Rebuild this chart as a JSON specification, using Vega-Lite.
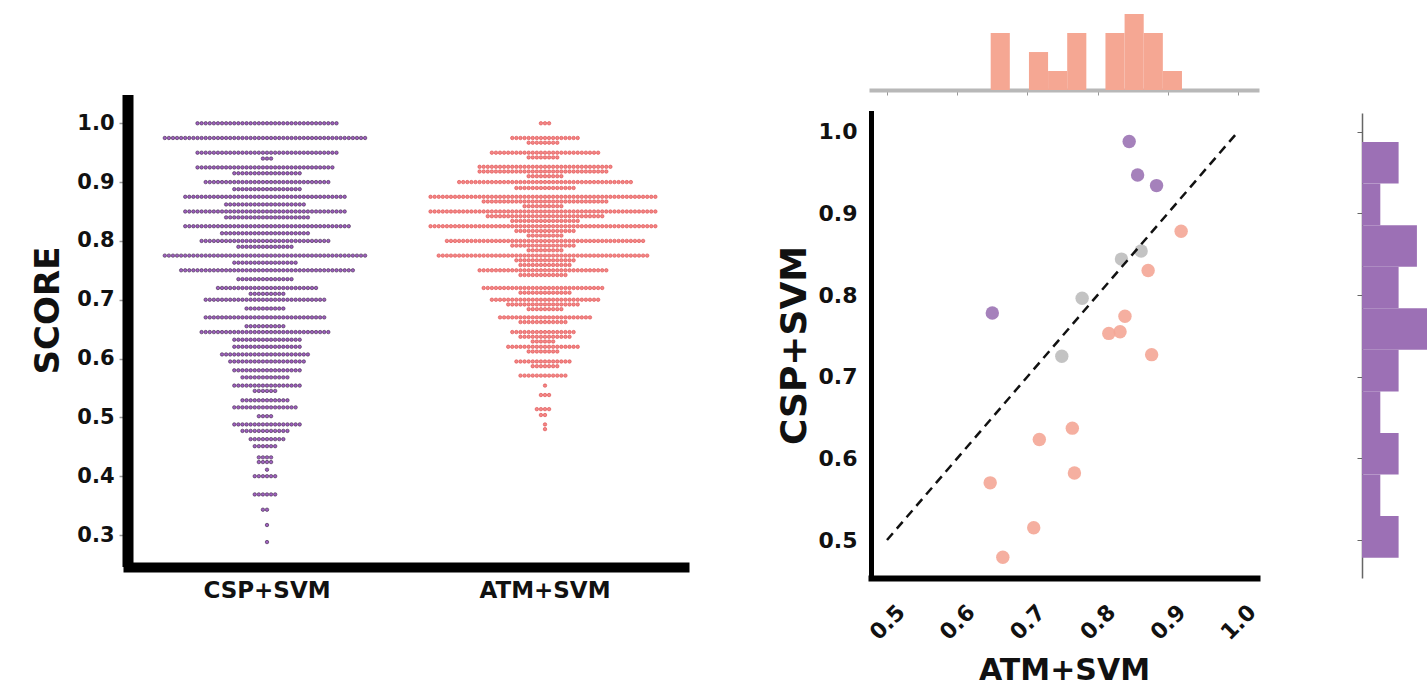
{
"$schema": "https://vega.github.io/schema/vega-lite/v6.json",
"background": "white",
"padding": {"left": 31, "top": 8, "right": 0, "bottom": 0},
"bounds": "flush",
"spacing": 187,
"config": {"font": "DejaVu Sans", "view": {"stroke": null}, "axis": {"grid": false, "labelFont": "DejaVu Sans", "titleFont": "DejaVu Sans", "labelFontWeight": "bold", "titleFontWeight": "bold", "labelColor": "#111111", "titleColor": "#111111"}},
"datasets": {
"pairs": [
{"atm":0.845,"csp":0.988,"better":"CSP+SVM"},{"atm":0.857,"csp":0.947,"better":"CSP+SVM"},{"atm":0.884,"csp":0.934,"better":"CSP+SVM"},{"atm":0.650,"csp":0.778,"better":"CSP+SVM"},
{"atm":0.834,"csp":0.844,"better":"neither"},{"atm":0.862,"csp":0.854,"better":"neither"},{"atm":0.778,"csp":0.796,"better":"neither"},{"atm":0.749,"csp":0.725,"better":"neither"},
{"atm":0.919,"csp":0.878,"better":"ATM+SVM"},{"atm":0.872,"csp":0.830,"better":"ATM+SVM"},{"atm":0.839,"csp":0.774,"better":"ATM+SVM"},{"atm":0.832,"csp":0.755,"better":"ATM+SVM"},
{"atm":0.816,"csp":0.753,"better":"ATM+SVM"},{"atm":0.877,"csp":0.727,"better":"ATM+SVM"},{"atm":0.764,"csp":0.637,"better":"ATM+SVM"},{"atm":0.717,"csp":0.623,"better":"ATM+SVM"},
{"atm":0.767,"csp":0.582,"better":"ATM+SVM"},{"atm":0.647,"csp":0.570,"better":"ATM+SVM"},{"atm":0.709,"csp":0.515,"better":"ATM+SVM"},{"atm":0.665,"csp":0.479,"better":"ATM+SVM"}
],
"csp": [
{"s":1},{"s":1},{"s":1},{"s":1},{"s":1},{"s":1},{"s":1},{"s":1},{"s":1},{"s":1},
{"s":1},{"s":1},{"s":1},{"s":1},{"s":1},{"s":1},{"s":1},{"s":1},{"s":1},{"s":1},
{"s":1},{"s":1},{"s":1},{"s":1},{"s":1},{"s":1},{"s":1},{"s":1},{"s":1},{"s":1},
{"s":1},{"s":1},{"s":1},{"s":1},{"s":1},
{"s":0.975},{"s":0.975},{"s":0.975},{"s":0.975},{"s":0.975},{"s":0.975},{"s":0.975},{"s":0.975},{"s":0.975},{"s":0.975},
{"s":0.975},{"s":0.975},{"s":0.975},{"s":0.975},{"s":0.975},{"s":0.975},{"s":0.975},{"s":0.975},{"s":0.975},{"s":0.975},
{"s":0.975},{"s":0.975},{"s":0.975},{"s":0.975},{"s":0.975},{"s":0.975},{"s":0.975},{"s":0.975},{"s":0.975},{"s":0.975},
{"s":0.975},{"s":0.975},{"s":0.975},{"s":0.975},{"s":0.975},{"s":0.975},{"s":0.975},{"s":0.975},{"s":0.975},{"s":0.975},
{"s":0.975},{"s":0.975},{"s":0.975},{"s":0.975},{"s":0.975},{"s":0.975},{"s":0.975},{"s":0.975},{"s":0.975},{"s":0.975},
{"s":0.95},{"s":0.95},{"s":0.95},{"s":0.95},{"s":0.95},{"s":0.95},{"s":0.95},{"s":0.95},{"s":0.95},{"s":0.95},
{"s":0.95},{"s":0.95},{"s":0.95},{"s":0.95},{"s":0.95},{"s":0.95},{"s":0.95},{"s":0.95},{"s":0.95},{"s":0.95},
{"s":0.95},{"s":0.95},{"s":0.95},{"s":0.95},{"s":0.95},{"s":0.95},{"s":0.95},{"s":0.95},{"s":0.95},{"s":0.95},
{"s":0.95},{"s":0.95},{"s":0.95},{"s":0.95},{"s":0.95},
{"s":0.94},{"s":0.94},{"s":0.94},
{"s":0.925},{"s":0.925},{"s":0.925},{"s":0.925},{"s":0.925},{"s":0.925},{"s":0.925},{"s":0.925},{"s":0.925},{"s":0.925},
{"s":0.925},{"s":0.925},{"s":0.925},{"s":0.925},{"s":0.925},{"s":0.925},{"s":0.925},{"s":0.925},{"s":0.925},{"s":0.925},
{"s":0.925},{"s":0.925},{"s":0.925},{"s":0.925},{"s":0.925},{"s":0.925},{"s":0.925},{"s":0.925},{"s":0.925},{"s":0.925},
{"s":0.925},{"s":0.925},{"s":0.925},{"s":0.925},
{"s":0.915},{"s":0.915},{"s":0.915},{"s":0.915},{"s":0.915},{"s":0.915},{"s":0.915},{"s":0.915},{"s":0.915},{"s":0.915},
{"s":0.915},{"s":0.915},{"s":0.915},{"s":0.915},{"s":0.915},{"s":0.915},{"s":0.915},
{"s":0.9},{"s":0.9},{"s":0.9},{"s":0.9},{"s":0.9},{"s":0.9},{"s":0.9},{"s":0.9},{"s":0.9},{"s":0.9},
{"s":0.9},{"s":0.9},{"s":0.9},{"s":0.9},{"s":0.9},{"s":0.9},{"s":0.9},{"s":0.9},{"s":0.9},{"s":0.9},
{"s":0.9},{"s":0.9},{"s":0.9},{"s":0.9},{"s":0.9},{"s":0.9},{"s":0.9},{"s":0.9},{"s":0.9},{"s":0.9},
{"s":0.9},
{"s":0.888},{"s":0.888},{"s":0.888},{"s":0.888},{"s":0.888},{"s":0.888},{"s":0.888},{"s":0.888},{"s":0.888},{"s":0.888},
{"s":0.888},{"s":0.888},{"s":0.888},{"s":0.888},{"s":0.888},{"s":0.888},{"s":0.888},
{"s":0.875},{"s":0.875},{"s":0.875},{"s":0.875},{"s":0.875},{"s":0.875},{"s":0.875},{"s":0.875},{"s":0.875},{"s":0.875},
{"s":0.875},{"s":0.875},{"s":0.875},{"s":0.875},{"s":0.875},{"s":0.875},{"s":0.875},{"s":0.875},{"s":0.875},{"s":0.875},
{"s":0.875},{"s":0.875},{"s":0.875},{"s":0.875},{"s":0.875},{"s":0.875},{"s":0.875},{"s":0.875},{"s":0.875},{"s":0.875},
{"s":0.875},{"s":0.875},{"s":0.875},{"s":0.875},{"s":0.875},{"s":0.875},{"s":0.875},{"s":0.875},{"s":0.875},{"s":0.875},
{"s":0.862},{"s":0.862},{"s":0.862},{"s":0.862},{"s":0.862},{"s":0.862},{"s":0.862},{"s":0.862},{"s":0.862},{"s":0.862},
{"s":0.862},{"s":0.862},{"s":0.862},{"s":0.862},{"s":0.862},{"s":0.862},{"s":0.862},{"s":0.862},{"s":0.862},{"s":0.862},
{"s":0.85},{"s":0.85},{"s":0.85},{"s":0.85},{"s":0.85},{"s":0.85},{"s":0.85},{"s":0.85},{"s":0.85},{"s":0.85},
{"s":0.85},{"s":0.85},{"s":0.85},{"s":0.85},{"s":0.85},{"s":0.85},{"s":0.85},{"s":0.85},{"s":0.85},{"s":0.85},
{"s":0.85},{"s":0.85},{"s":0.85},{"s":0.85},{"s":0.85},{"s":0.85},{"s":0.85},{"s":0.85},{"s":0.85},{"s":0.85},
{"s":0.85},{"s":0.85},{"s":0.85},{"s":0.85},{"s":0.85},{"s":0.85},{"s":0.85},{"s":0.85},{"s":0.85},{"s":0.85},
{"s":0.84},{"s":0.84},{"s":0.84},{"s":0.84},{"s":0.84},{"s":0.84},{"s":0.84},{"s":0.84},{"s":0.84},{"s":0.84},
{"s":0.84},{"s":0.84},{"s":0.84},{"s":0.84},{"s":0.84},{"s":0.84},{"s":0.84},{"s":0.84},{"s":0.84},{"s":0.84},
{"s":0.84},
{"s":0.825},{"s":0.825},{"s":0.825},{"s":0.825},{"s":0.825},{"s":0.825},{"s":0.825},{"s":0.825},{"s":0.825},{"s":0.825},
{"s":0.825},{"s":0.825},{"s":0.825},{"s":0.825},{"s":0.825},{"s":0.825},{"s":0.825},{"s":0.825},{"s":0.825},{"s":0.825},
{"s":0.825},{"s":0.825},{"s":0.825},{"s":0.825},{"s":0.825},{"s":0.825},{"s":0.825},{"s":0.825},{"s":0.825},{"s":0.825},
{"s":0.825},{"s":0.825},{"s":0.825},{"s":0.825},{"s":0.825},{"s":0.825},{"s":0.825},{"s":0.825},{"s":0.825},{"s":0.825},
{"s":0.825},
{"s":0.813},{"s":0.813},{"s":0.813},{"s":0.813},{"s":0.813},{"s":0.813},{"s":0.813},{"s":0.813},{"s":0.813},{"s":0.813},
{"s":0.813},{"s":0.813},{"s":0.813},{"s":0.813},{"s":0.813},{"s":0.813},{"s":0.813},{"s":0.813},{"s":0.813},{"s":0.813},
{"s":0.813},{"s":0.813},
{"s":0.8},{"s":0.8},{"s":0.8},{"s":0.8},{"s":0.8},{"s":0.8},{"s":0.8},{"s":0.8},{"s":0.8},{"s":0.8},
{"s":0.8},{"s":0.8},{"s":0.8},{"s":0.8},{"s":0.8},{"s":0.8},{"s":0.8},{"s":0.8},{"s":0.8},{"s":0.8},
{"s":0.8},{"s":0.8},{"s":0.8},{"s":0.8},{"s":0.8},{"s":0.8},{"s":0.8},{"s":0.8},{"s":0.8},{"s":0.8},
{"s":0.8},{"s":0.8},
{"s":0.79},{"s":0.79},{"s":0.79},{"s":0.79},{"s":0.79},{"s":0.79},{"s":0.79},{"s":0.79},{"s":0.79},{"s":0.79},
{"s":0.79},{"s":0.79},{"s":0.79},{"s":0.79},
{"s":0.775},{"s":0.775},{"s":0.775},{"s":0.775},{"s":0.775},{"s":0.775},{"s":0.775},{"s":0.775},{"s":0.775},{"s":0.775},
{"s":0.775},{"s":0.775},{"s":0.775},{"s":0.775},{"s":0.775},{"s":0.775},{"s":0.775},{"s":0.775},{"s":0.775},{"s":0.775},
{"s":0.775},{"s":0.775},{"s":0.775},{"s":0.775},{"s":0.775},{"s":0.775},{"s":0.775},{"s":0.775},{"s":0.775},{"s":0.775},
{"s":0.775},{"s":0.775},{"s":0.775},{"s":0.775},{"s":0.775},{"s":0.775},{"s":0.775},{"s":0.775},{"s":0.775},{"s":0.775},
{"s":0.775},{"s":0.775},{"s":0.775},{"s":0.775},{"s":0.775},{"s":0.775},{"s":0.775},{"s":0.775},{"s":0.775},{"s":0.775},
{"s":0.763},{"s":0.763},{"s":0.763},{"s":0.763},{"s":0.763},{"s":0.763},{"s":0.763},{"s":0.763},{"s":0.763},{"s":0.763},
{"s":0.763},{"s":0.763},{"s":0.763},{"s":0.763},{"s":0.763},{"s":0.763},
{"s":0.75},{"s":0.75},{"s":0.75},{"s":0.75},{"s":0.75},{"s":0.75},{"s":0.75},{"s":0.75},{"s":0.75},{"s":0.75},
{"s":0.75},{"s":0.75},{"s":0.75},{"s":0.75},{"s":0.75},{"s":0.75},{"s":0.75},{"s":0.75},{"s":0.75},{"s":0.75},
{"s":0.75},{"s":0.75},{"s":0.75},{"s":0.75},{"s":0.75},{"s":0.75},{"s":0.75},{"s":0.75},{"s":0.75},{"s":0.75},
{"s":0.75},{"s":0.75},{"s":0.75},{"s":0.75},{"s":0.75},{"s":0.75},{"s":0.75},{"s":0.75},{"s":0.75},{"s":0.75},
{"s":0.75},{"s":0.75},{"s":0.75},
{"s":0.735},{"s":0.735},{"s":0.735},{"s":0.735},{"s":0.735},{"s":0.735},{"s":0.735},{"s":0.735},{"s":0.735},{"s":0.735},
{"s":0.735},{"s":0.735},{"s":0.735},{"s":0.735},
{"s":0.72},{"s":0.72},{"s":0.72},{"s":0.72},{"s":0.72},{"s":0.72},{"s":0.72},{"s":0.72},{"s":0.72},{"s":0.72},
{"s":0.72},{"s":0.72},{"s":0.72},{"s":0.72},{"s":0.72},{"s":0.72},{"s":0.72},{"s":0.72},{"s":0.72},{"s":0.72},
{"s":0.72},{"s":0.72},{"s":0.72},{"s":0.72},{"s":0.72},
{"s":0.71},{"s":0.71},{"s":0.71},{"s":0.71},{"s":0.71},{"s":0.71},{"s":0.71},{"s":0.71},{"s":0.71},
{"s":0.7},{"s":0.7},{"s":0.7},{"s":0.7},{"s":0.7},{"s":0.7},{"s":0.7},{"s":0.7},{"s":0.7},{"s":0.7},
{"s":0.7},{"s":0.7},{"s":0.7},{"s":0.7},{"s":0.7},{"s":0.7},{"s":0.7},{"s":0.7},{"s":0.7},{"s":0.7},
{"s":0.7},{"s":0.7},{"s":0.7},{"s":0.7},{"s":0.7},{"s":0.7},{"s":0.7},{"s":0.7},{"s":0.7},{"s":0.7},
{"s":0.685},{"s":0.685},{"s":0.685},{"s":0.685},{"s":0.685},{"s":0.685},{"s":0.685},{"s":0.685},{"s":0.685},{"s":0.685},
{"s":0.67},{"s":0.67},{"s":0.67},{"s":0.67},{"s":0.67},{"s":0.67},{"s":0.67},{"s":0.67},{"s":0.67},{"s":0.67},
{"s":0.67},{"s":0.67},{"s":0.67},{"s":0.67},{"s":0.67},{"s":0.67},{"s":0.67},{"s":0.67},{"s":0.67},{"s":0.67},
{"s":0.67},{"s":0.67},{"s":0.67},{"s":0.67},{"s":0.67},{"s":0.67},{"s":0.67},{"s":0.67},{"s":0.67},{"s":0.67},
{"s":0.655},{"s":0.655},{"s":0.655},{"s":0.655},{"s":0.655},{"s":0.655},{"s":0.655},{"s":0.655},{"s":0.655},{"s":0.655},
{"s":0.645},{"s":0.645},{"s":0.645},{"s":0.645},{"s":0.645},{"s":0.645},{"s":0.645},{"s":0.645},{"s":0.645},{"s":0.645},
{"s":0.645},{"s":0.645},{"s":0.645},{"s":0.645},{"s":0.645},{"s":0.645},{"s":0.645},{"s":0.645},{"s":0.645},{"s":0.645},
{"s":0.645},{"s":0.645},{"s":0.645},{"s":0.645},{"s":0.645},{"s":0.645},{"s":0.645},{"s":0.645},{"s":0.645},{"s":0.645},
{"s":0.645},{"s":0.645},
{"s":0.632},{"s":0.632},{"s":0.632},{"s":0.632},{"s":0.632},{"s":0.632},{"s":0.632},{"s":0.632},{"s":0.632},{"s":0.632},
{"s":0.632},{"s":0.632},{"s":0.632},{"s":0.632},{"s":0.632},{"s":0.632},{"s":0.632},
{"s":0.62},{"s":0.62},{"s":0.62},{"s":0.62},{"s":0.62},{"s":0.62},{"s":0.62},{"s":0.62},{"s":0.62},{"s":0.62},
{"s":0.62},{"s":0.62},{"s":0.62},{"s":0.62},{"s":0.62},{"s":0.62},{"s":0.62},
{"s":0.607},{"s":0.607},{"s":0.607},{"s":0.607},{"s":0.607},{"s":0.607},{"s":0.607},{"s":0.607},{"s":0.607},{"s":0.607},
{"s":0.607},{"s":0.607},{"s":0.607},{"s":0.607},{"s":0.607},{"s":0.607},{"s":0.607},{"s":0.607},{"s":0.607},{"s":0.607},
{"s":0.607},{"s":0.607},
{"s":0.595},{"s":0.595},{"s":0.595},{"s":0.595},{"s":0.595},{"s":0.595},{"s":0.595},{"s":0.595},{"s":0.595},{"s":0.595},
{"s":0.595},{"s":0.595},{"s":0.595},{"s":0.595},{"s":0.595},{"s":0.595},{"s":0.595},{"s":0.595},{"s":0.595},
{"s":0.58},{"s":0.58},{"s":0.58},{"s":0.58},{"s":0.58},{"s":0.58},{"s":0.58},{"s":0.58},{"s":0.58},{"s":0.58},
{"s":0.58},{"s":0.58},{"s":0.58},{"s":0.58},{"s":0.58},{"s":0.58},{"s":0.58},
{"s":0.568},{"s":0.568},{"s":0.568},{"s":0.568},{"s":0.568},{"s":0.568},{"s":0.568},{"s":0.568},{"s":0.568},{"s":0.568},
{"s":0.568},{"s":0.568},
{"s":0.554},{"s":0.554},{"s":0.554},{"s":0.554},{"s":0.554},{"s":0.554},{"s":0.554},{"s":0.554},{"s":0.554},{"s":0.554},
{"s":0.554},{"s":0.554},{"s":0.554},{"s":0.554},{"s":0.554},{"s":0.554},{"s":0.554},
{"s":0.545},{"s":0.545},{"s":0.545},{"s":0.545},{"s":0.545},{"s":0.545},
{"s":0.529},{"s":0.529},{"s":0.529},{"s":0.529},{"s":0.529},{"s":0.529},{"s":0.529},{"s":0.529},{"s":0.529},{"s":0.529},
{"s":0.529},{"s":0.529},
{"s":0.517},{"s":0.517},{"s":0.517},{"s":0.517},{"s":0.517},{"s":0.517},{"s":0.517},{"s":0.517},{"s":0.517},{"s":0.517},
{"s":0.517},{"s":0.517},{"s":0.517},{"s":0.517},{"s":0.517},{"s":0.517},
{"s":0.502},{"s":0.502},{"s":0.502},{"s":0.502},
{"s":0.488},{"s":0.488},{"s":0.488},{"s":0.488},{"s":0.488},{"s":0.488},{"s":0.488},{"s":0.488},{"s":0.488},{"s":0.488},
{"s":0.488},{"s":0.488},{"s":0.488},{"s":0.488},{"s":0.488},{"s":0.488},{"s":0.488},
{"s":0.477},{"s":0.477},{"s":0.477},{"s":0.477},{"s":0.477},{"s":0.477},{"s":0.477},{"s":0.477},{"s":0.477},{"s":0.477},
{"s":0.477},{"s":0.477},
{"s":0.463},{"s":0.463},{"s":0.463},{"s":0.463},{"s":0.463},{"s":0.463},{"s":0.463},{"s":0.463},{"s":0.463},
{"s":0.451},{"s":0.451},{"s":0.451},{"s":0.451},{"s":0.451},{"s":0.451},
{"s":0.432},{"s":0.432},{"s":0.432},{"s":0.432},
{"s":0.424},{"s":0.424},{"s":0.424},{"s":0.424},
{"s":0.411},
{"s":0.4},{"s":0.4},{"s":0.4},{"s":0.4},{"s":0.4},{"s":0.4},
{"s":0.369},{"s":0.369},{"s":0.369},{"s":0.369},{"s":0.369},{"s":0.369},
{"s":0.343},{"s":0.343},
{"s":0.317},
{"s":0.288}
],
"atm": [
{"s":1},{"s":1},{"s":1},
{"s":0.975},{"s":0.975},{"s":0.975},{"s":0.975},{"s":0.975},{"s":0.975},{"s":0.975},{"s":0.975},{"s":0.975},{"s":0.975},
{"s":0.975},{"s":0.975},{"s":0.975},{"s":0.975},{"s":0.975},{"s":0.975},{"s":0.975},
{"s":0.967},{"s":0.967},{"s":0.967},{"s":0.967},{"s":0.967},{"s":0.967},{"s":0.967},{"s":0.967},
{"s":0.95},{"s":0.95},{"s":0.95},{"s":0.95},{"s":0.95},{"s":0.95},{"s":0.95},{"s":0.95},{"s":0.95},{"s":0.95},
{"s":0.95},{"s":0.95},{"s":0.95},{"s":0.95},{"s":0.95},{"s":0.95},{"s":0.95},{"s":0.95},{"s":0.95},{"s":0.95},
{"s":0.95},{"s":0.95},{"s":0.95},{"s":0.95},{"s":0.95},{"s":0.95},{"s":0.95},
{"s":0.942},{"s":0.942},{"s":0.942},{"s":0.942},{"s":0.942},{"s":0.942},{"s":0.942},{"s":0.942},
{"s":0.926},{"s":0.926},{"s":0.926},{"s":0.926},{"s":0.926},{"s":0.926},{"s":0.926},{"s":0.926},{"s":0.926},{"s":0.926},
{"s":0.926},{"s":0.926},{"s":0.926},{"s":0.926},{"s":0.926},{"s":0.926},{"s":0.926},{"s":0.926},{"s":0.926},{"s":0.926},
{"s":0.926},{"s":0.926},{"s":0.926},{"s":0.926},{"s":0.926},{"s":0.926},{"s":0.926},{"s":0.926},{"s":0.926},{"s":0.926},
{"s":0.926},{"s":0.926},{"s":0.926},
{"s":0.918},{"s":0.918},{"s":0.918},{"s":0.918},{"s":0.918},{"s":0.918},{"s":0.918},{"s":0.918},{"s":0.918},{"s":0.918},
{"s":0.918},{"s":0.918},{"s":0.918},{"s":0.918},{"s":0.918},{"s":0.918},{"s":0.918},{"s":0.918},{"s":0.918},{"s":0.918},
{"s":0.918},{"s":0.918},{"s":0.918},{"s":0.918},{"s":0.918},{"s":0.918},{"s":0.918},{"s":0.918},{"s":0.918},{"s":0.918},
{"s":0.918},{"s":0.918},
{"s":0.91},{"s":0.91},{"s":0.91},{"s":0.91},{"s":0.91},{"s":0.91},{"s":0.91},{"s":0.91},{"s":0.91},
{"s":0.9},{"s":0.9},{"s":0.9},{"s":0.9},{"s":0.9},{"s":0.9},{"s":0.9},{"s":0.9},{"s":0.9},{"s":0.9},
{"s":0.9},{"s":0.9},{"s":0.9},{"s":0.9},{"s":0.9},{"s":0.9},{"s":0.9},{"s":0.9},{"s":0.9},{"s":0.9},
{"s":0.9},{"s":0.9},{"s":0.9},{"s":0.9},{"s":0.9},{"s":0.9},{"s":0.9},{"s":0.9},{"s":0.9},{"s":0.9},
{"s":0.9},{"s":0.9},{"s":0.9},{"s":0.9},{"s":0.9},{"s":0.9},{"s":0.9},{"s":0.9},{"s":0.9},{"s":0.9},
{"s":0.9},{"s":0.9},{"s":0.9},
{"s":0.89},{"s":0.89},{"s":0.89},{"s":0.89},{"s":0.89},{"s":0.89},{"s":0.89},{"s":0.89},{"s":0.89},{"s":0.89},
{"s":0.89},{"s":0.89},{"s":0.89},{"s":0.89},{"s":0.89},
{"s":0.875},{"s":0.875},{"s":0.875},{"s":0.875},{"s":0.875},{"s":0.875},{"s":0.875},{"s":0.875},{"s":0.875},{"s":0.875},
{"s":0.875},{"s":0.875},{"s":0.875},{"s":0.875},{"s":0.875},{"s":0.875},{"s":0.875},{"s":0.875},{"s":0.875},{"s":0.875},
{"s":0.875},{"s":0.875},{"s":0.875},{"s":0.875},{"s":0.875},{"s":0.875},{"s":0.875},{"s":0.875},{"s":0.875},{"s":0.875},
{"s":0.875},{"s":0.875},{"s":0.875},{"s":0.875},{"s":0.875},{"s":0.875},{"s":0.875},{"s":0.875},{"s":0.875},{"s":0.875},
{"s":0.875},{"s":0.875},{"s":0.875},{"s":0.875},{"s":0.875},{"s":0.875},{"s":0.875},{"s":0.875},{"s":0.875},{"s":0.875},
{"s":0.875},{"s":0.875},{"s":0.875},{"s":0.875},{"s":0.875},{"s":0.875},
{"s":0.867},{"s":0.867},{"s":0.867},{"s":0.867},{"s":0.867},{"s":0.867},{"s":0.867},{"s":0.867},{"s":0.867},{"s":0.867},
{"s":0.867},{"s":0.867},{"s":0.867},{"s":0.867},{"s":0.867},{"s":0.867},{"s":0.867},{"s":0.867},{"s":0.867},{"s":0.867},
{"s":0.867},{"s":0.867},{"s":0.867},{"s":0.867},{"s":0.867},{"s":0.867},{"s":0.867},{"s":0.867},{"s":0.867},{"s":0.867},
{"s":0.867},
{"s":0.859},{"s":0.859},{"s":0.859},{"s":0.859},{"s":0.859},{"s":0.859},{"s":0.859},{"s":0.859},{"s":0.859},{"s":0.859},
{"s":0.85},{"s":0.85},{"s":0.85},{"s":0.85},{"s":0.85},{"s":0.85},{"s":0.85},{"s":0.85},{"s":0.85},{"s":0.85},
{"s":0.85},{"s":0.85},{"s":0.85},{"s":0.85},{"s":0.85},{"s":0.85},{"s":0.85},{"s":0.85},{"s":0.85},{"s":0.85},
{"s":0.85},{"s":0.85},{"s":0.85},{"s":0.85},{"s":0.85},{"s":0.85},{"s":0.85},{"s":0.85},{"s":0.85},{"s":0.85},
{"s":0.85},{"s":0.85},{"s":0.85},{"s":0.85},{"s":0.85},{"s":0.85},{"s":0.85},{"s":0.85},{"s":0.85},{"s":0.85},
{"s":0.85},{"s":0.85},{"s":0.85},{"s":0.85},{"s":0.85},{"s":0.85},{"s":0.85},{"s":0.85},{"s":0.85},{"s":0.85},
{"s":0.85},{"s":0.85},{"s":0.85},{"s":0.85},{"s":0.85},{"s":0.85},
{"s":0.842},{"s":0.842},{"s":0.842},{"s":0.842},{"s":0.842},{"s":0.842},{"s":0.842},{"s":0.842},{"s":0.842},{"s":0.842},
{"s":0.842},{"s":0.842},{"s":0.842},{"s":0.842},{"s":0.842},{"s":0.842},{"s":0.842},{"s":0.842},{"s":0.842},{"s":0.842},
{"s":0.842},{"s":0.842},{"s":0.842},{"s":0.842},{"s":0.842},{"s":0.842},{"s":0.842},{"s":0.842},{"s":0.842},
{"s":0.834},{"s":0.834},{"s":0.834},{"s":0.834},{"s":0.834},{"s":0.834},{"s":0.834},{"s":0.834},{"s":0.834},{"s":0.834},
{"s":0.834},{"s":0.834},{"s":0.834},{"s":0.834},{"s":0.834},{"s":0.834},{"s":0.834},
{"s":0.825},{"s":0.825},{"s":0.825},{"s":0.825},{"s":0.825},{"s":0.825},{"s":0.825},{"s":0.825},{"s":0.825},{"s":0.825},
{"s":0.825},{"s":0.825},{"s":0.825},{"s":0.825},{"s":0.825},{"s":0.825},{"s":0.825},{"s":0.825},{"s":0.825},{"s":0.825},
{"s":0.825},{"s":0.825},{"s":0.825},{"s":0.825},{"s":0.825},{"s":0.825},{"s":0.825},{"s":0.825},{"s":0.825},{"s":0.825},
{"s":0.825},{"s":0.825},{"s":0.825},{"s":0.825},{"s":0.825},{"s":0.825},{"s":0.825},{"s":0.825},{"s":0.825},{"s":0.825},
{"s":0.825},{"s":0.825},{"s":0.825},{"s":0.825},{"s":0.825},{"s":0.825},{"s":0.825},{"s":0.825},{"s":0.825},{"s":0.825},
{"s":0.825},{"s":0.825},{"s":0.825},{"s":0.825},{"s":0.825},{"s":0.825},
{"s":0.817},{"s":0.817},{"s":0.817},{"s":0.817},{"s":0.817},{"s":0.817},{"s":0.817},{"s":0.817},{"s":0.817},{"s":0.817},
{"s":0.817},{"s":0.817},{"s":0.817},{"s":0.817},{"s":0.817},
{"s":0.809},{"s":0.809},{"s":0.809},{"s":0.809},{"s":0.809},{"s":0.809},{"s":0.809},{"s":0.809},{"s":0.809},
{"s":0.8},{"s":0.8},{"s":0.8},{"s":0.8},{"s":0.8},{"s":0.8},{"s":0.8},{"s":0.8},{"s":0.8},{"s":0.8},
{"s":0.8},{"s":0.8},{"s":0.8},{"s":0.8},{"s":0.8},{"s":0.8},{"s":0.8},{"s":0.8},{"s":0.8},{"s":0.8},
{"s":0.8},{"s":0.8},{"s":0.8},{"s":0.8},{"s":0.8},{"s":0.8},{"s":0.8},{"s":0.8},{"s":0.8},{"s":0.8},
{"s":0.8},{"s":0.8},{"s":0.8},{"s":0.8},{"s":0.8},{"s":0.8},{"s":0.8},{"s":0.8},{"s":0.8},{"s":0.8},
{"s":0.8},{"s":0.8},{"s":0.8},{"s":0.8},{"s":0.8},{"s":0.8},{"s":0.8},{"s":0.8},{"s":0.8},
{"s":0.792},{"s":0.792},{"s":0.792},{"s":0.792},{"s":0.792},{"s":0.792},{"s":0.792},{"s":0.792},{"s":0.792},{"s":0.792},
{"s":0.792},{"s":0.792},{"s":0.792},{"s":0.792},{"s":0.792},{"s":0.792},
{"s":0.784},{"s":0.784},{"s":0.784},{"s":0.784},{"s":0.784},{"s":0.784},{"s":0.784},{"s":0.784},{"s":0.784},
{"s":0.775},{"s":0.775},{"s":0.775},{"s":0.775},{"s":0.775},{"s":0.775},{"s":0.775},{"s":0.775},{"s":0.775},{"s":0.775},
{"s":0.775},{"s":0.775},{"s":0.775},{"s":0.775},{"s":0.775},{"s":0.775},{"s":0.775},{"s":0.775},{"s":0.775},{"s":0.775},
{"s":0.775},{"s":0.775},{"s":0.775},{"s":0.775},{"s":0.775},{"s":0.775},{"s":0.775},{"s":0.775},{"s":0.775},{"s":0.775},
{"s":0.775},{"s":0.775},{"s":0.775},{"s":0.775},{"s":0.775},{"s":0.775},{"s":0.775},{"s":0.775},{"s":0.775},{"s":0.775},
{"s":0.775},{"s":0.775},{"s":0.775},{"s":0.775},{"s":0.775},{"s":0.775},{"s":0.775},{"s":0.775},{"s":0.775},{"s":0.775},
{"s":0.775},{"s":0.775},
{"s":0.767},{"s":0.767},{"s":0.767},{"s":0.767},{"s":0.767},{"s":0.767},{"s":0.767},{"s":0.767},{"s":0.767},{"s":0.767},
{"s":0.767},{"s":0.767},{"s":0.767},{"s":0.767},{"s":0.767},
{"s":0.759},{"s":0.759},{"s":0.759},{"s":0.759},{"s":0.759},{"s":0.759},{"s":0.759},{"s":0.759},{"s":0.759},{"s":0.759},
{"s":0.759},{"s":0.759},{"s":0.759},
{"s":0.75},{"s":0.75},{"s":0.75},{"s":0.75},{"s":0.75},{"s":0.75},{"s":0.75},{"s":0.75},{"s":0.75},{"s":0.75},
{"s":0.75},{"s":0.75},{"s":0.75},{"s":0.75},{"s":0.75},{"s":0.75},{"s":0.75},{"s":0.75},{"s":0.75},{"s":0.75},
{"s":0.75},{"s":0.75},{"s":0.75},{"s":0.75},{"s":0.75},{"s":0.75},{"s":0.75},{"s":0.75},{"s":0.75},{"s":0.75},
{"s":0.75},{"s":0.75},
{"s":0.742},{"s":0.742},{"s":0.742},{"s":0.742},{"s":0.742},{"s":0.742},{"s":0.742},{"s":0.742},{"s":0.742},{"s":0.742},
{"s":0.742},{"s":0.742},
{"s":0.72},{"s":0.72},{"s":0.72},{"s":0.72},{"s":0.72},{"s":0.72},{"s":0.72},{"s":0.72},{"s":0.72},{"s":0.72},
{"s":0.72},{"s":0.72},{"s":0.72},{"s":0.72},{"s":0.72},{"s":0.72},{"s":0.72},{"s":0.72},{"s":0.72},{"s":0.72},
{"s":0.72},{"s":0.72},{"s":0.72},{"s":0.72},{"s":0.72},{"s":0.72},{"s":0.72},{"s":0.72},{"s":0.72},{"s":0.72},
{"s":0.712},{"s":0.712},{"s":0.712},{"s":0.712},{"s":0.712},{"s":0.712},{"s":0.712},{"s":0.712},{"s":0.712},{"s":0.712},
{"s":0.712},{"s":0.712},{"s":0.712},
{"s":0.7},{"s":0.7},{"s":0.7},{"s":0.7},{"s":0.7},{"s":0.7},{"s":0.7},{"s":0.7},{"s":0.7},{"s":0.7},
{"s":0.7},{"s":0.7},{"s":0.7},{"s":0.7},{"s":0.7},{"s":0.7},{"s":0.7},{"s":0.7},{"s":0.7},{"s":0.7},
{"s":0.7},{"s":0.7},{"s":0.7},{"s":0.7},{"s":0.7},{"s":0.7},{"s":0.7},
{"s":0.692},{"s":0.692},{"s":0.692},{"s":0.692},{"s":0.692},{"s":0.692},{"s":0.692},{"s":0.692},{"s":0.692},{"s":0.692},
{"s":0.692},{"s":0.692},{"s":0.692},{"s":0.692},{"s":0.692},{"s":0.692},{"s":0.692},{"s":0.692},
{"s":0.684},{"s":0.684},{"s":0.684},{"s":0.684},{"s":0.684},{"s":0.684},{"s":0.684},{"s":0.684},{"s":0.684},
{"s":0.67},{"s":0.67},{"s":0.67},{"s":0.67},{"s":0.67},{"s":0.67},{"s":0.67},{"s":0.67},{"s":0.67},{"s":0.67},
{"s":0.67},{"s":0.67},{"s":0.67},{"s":0.67},{"s":0.67},{"s":0.67},{"s":0.67},{"s":0.67},{"s":0.67},{"s":0.67},
{"s":0.67},{"s":0.67},{"s":0.67},
{"s":0.662},{"s":0.662},{"s":0.662},{"s":0.662},{"s":0.662},{"s":0.662},{"s":0.662},{"s":0.662},{"s":0.662},{"s":0.662},
{"s":0.662},{"s":0.662},
{"s":0.645},{"s":0.645},{"s":0.645},{"s":0.645},{"s":0.645},{"s":0.645},{"s":0.645},{"s":0.645},{"s":0.645},{"s":0.645},
{"s":0.645},{"s":0.645},{"s":0.645},{"s":0.645},{"s":0.645},{"s":0.645},
{"s":0.637},{"s":0.637},{"s":0.637},{"s":0.637},{"s":0.637},{"s":0.637},{"s":0.637},{"s":0.637},{"s":0.637},{"s":0.637},
{"s":0.637},{"s":0.637},{"s":0.637},
{"s":0.629},{"s":0.629},{"s":0.629},{"s":0.629},{"s":0.629},{"s":0.629},
{"s":0.62},{"s":0.62},{"s":0.62},{"s":0.62},{"s":0.62},{"s":0.62},{"s":0.62},{"s":0.62},{"s":0.62},{"s":0.62},
{"s":0.62},{"s":0.62},{"s":0.62},{"s":0.62},{"s":0.62},{"s":0.62},{"s":0.62},{"s":0.62},
{"s":0.612},{"s":0.612},{"s":0.612},{"s":0.612},{"s":0.612},{"s":0.612},{"s":0.612},{"s":0.612},
{"s":0.595},{"s":0.595},{"s":0.595},{"s":0.595},{"s":0.595},{"s":0.595},{"s":0.595},{"s":0.595},{"s":0.595},{"s":0.595},
{"s":0.595},{"s":0.595},{"s":0.595},{"s":0.595},
{"s":0.587},{"s":0.587},{"s":0.587},{"s":0.587},{"s":0.587},{"s":0.587},{"s":0.587},
{"s":0.571},{"s":0.571},{"s":0.571},{"s":0.571},{"s":0.571},{"s":0.571},{"s":0.571},{"s":0.571},{"s":0.571},{"s":0.571},
{"s":0.571},{"s":0.571},
{"s":0.554},
{"s":0.538},{"s":0.538},{"s":0.538},
{"s":0.514},{"s":0.514},{"s":0.514},{"s":0.514},
{"s":0.504},{"s":0.504},
{"s":0.488},
{"s":0.48}
]
},
"hconcat": [
{
"width": 556,
"height": 559,
"layer": [
{
"data": {"name": "csp"},
"transform": [{"window": [{"op": "row_number", "as": "r"}], "groupby": ["s"]}],
"mark": {"type": "point", "shape": "circle", "filled": true, "size": 12, "color": "#a062c0", "stroke": "#3a2046", "strokeWidth": 0.6, "opacity": 1},
"encoding": {
"x": {"datum": "CSP+SVM", "type": "nominal", "title": null, "scale": {"domain": ["CSP+SVM", "ATM+SVM"], "paddingInner": 0, "paddingOuter": 0},
"axis": {"labelFontSize": 23, "labelPadding": 23, "labelBaseline": "middle", "labelAngle": 0, "ticks": false, "tickSize": 0, "domainColor": "#000000", "domainWidth": 10, "domainCap": "square"}},
"xOffset": {"field": "r", "type": "ordinal", "scale": {"domain": [68,66,64,62,60,58,56,54,52,50,48,46,44,42,40,38,36,34,32,30,28,26,24,22,20,18,16,14,12,10,8,6,4,2,1,3,5,7,9,11,13,15,17,19,21,23,25,27,29,31,33,35,37,39,41,43,45,47,49,51,53,55,57,59,61,63,65,67,69], "paddingInner": 0, "paddingOuter": 0}},
"y": {"field": "s", "type": "quantitative", "title": "SCORE", "scale": {"domain": [0.2456, 1.196], "nice": false, "zero": false},
"axis": {"values": [0.3, 0.4, 0.5, 0.6, 0.7, 0.8, 0.9, 1.0], "format": ".1f", "labelFontSize": 21, "labelPadding": 5, "tickSize": 9, "tickColor": "#999999", "tickWidth": 1.5, "domain": false, "titleFontSize": 34, "titleX": -80, "titleY": 302, "titleAlign": "center", "titleBaseline": "middle", "titleAngle": 270}}
}
},
{
"data": {"name": "atm"},
"transform": [{"window": [{"op": "row_number", "as": "r"}], "groupby": ["s"]}],
"mark": {"type": "point", "shape": "circle", "filled": true, "size": 12, "color": "#f48686", "stroke": "#dc4444", "strokeWidth": 0.6, "opacity": 1},
"encoding": {
"x": {"datum": "ATM+SVM", "type": "nominal", "title": null},
"xOffset": {"field": "r", "type": "ordinal"},
"y": {"field": "s", "type": "quantitative", "title": "SCORE"}
}
},
{
"data": {"values": [{}]},
"mark": {"type": "rule", "color": "#000000", "strokeWidth": 11, "strokeCap": "butt"},
"encoding": {
"x": {"datum": "CSP+SVM", "type": "nominal", "bandPosition": 0, "title": null},
"y": {"datum": 0.2456, "type": "quantitative", "title": "SCORE"},
"y2": {"datum": 1.048}
}
}
]
},
{
"vconcat": [
{
"width": 386,
"height": 82,
"data": {"name": "pairs"},
"mark": {"type": "bar", "color": "#f5a793", "binSpacing": 0},
"encoding": {
"x": {"field": "atm", "type": "quantitative", "bin": {"extent": [0.647, 0.9195], "step": 0.02725, "nice": false}, "scale": {"domain": [0.4772, 1.0271], "nice": false, "zero": false},
"axis": {"title": null, "labels": false, "values": [0.5, 0.6, 0.7, 0.8, 0.9, 1.0], "domainColor": "#b8b8b8", "domainWidth": 4, "domainCap": "square", "tickColor": "#999999", "tickSize": 5, "tickWidth": 1}},
"y": {"aggregate": "count", "type": "quantitative", "scale": {"domain": [0, 4.32], "nice": false}, "axis": null}
}
},
{
"hconcat": [
{
"width": 386,
"height": 465,
"layer": [
{
"data": {"name": "pairs"},
"mark": {"type": "circle", "size": 180, "opacity": 0.9},
"encoding": {
"x": {"field": "atm", "type": "quantitative", "scale": {"domain": [0.4772, 1.0271], "nice": false, "zero": false},
"axis": {"title": "ATM+SVM", "values": [0.5, 0.6, 0.7, 0.8, 0.9, 1.0], "format": ".1f", "labelAngle": -45, "labelAlign": "center", "labelBaseline": "middle", "labelPadding": 44, "labelFontSize": 22, "ticks": false, "tickSize": 0, "domainColor": "#000000", "domainWidth": 6, "domainCap": "square", "titleFontSize": 30, "titleX": 193, "titleY": 92, "titleAlign": "center", "titleBaseline": "middle"}},
"y": {"field": "csp", "type": "quantitative", "scale": {"domain": [0.4535, 1.0229], "nice": false, "zero": false},
"axis": {"title": "CSP+SVM", "values": [0.5, 0.6, 0.7, 0.8, 0.9, 1.0], "format": ".1f", "labelFontSize": 22, "labelPadding": 14, "ticks": false, "tickSize": 0, "domainColor": "#000000", "domainWidth": 5, "domainCap": "square", "titleFontSize": 36, "titleX": -77, "titleY": 232, "titleAlign": "center", "titleBaseline": "middle", "titleAngle": 270}},
"color": {"field": "better", "type": "nominal", "scale": {"domain": ["CSP+SVM", "ATM+SVM", "neither"], "range": ["#9b73b4", "#f4a696", "#bcbcbc"]}, "legend": null}
}
},
{
"data": {"values": [{}]},
"mark": {"type": "rule", "strokeDash": [9, 6], "strokeWidth": 2.5, "color": "#111111"},
"encoding": {
"x": {"datum": 0.5, "type": "quantitative", "title": null},
"y": {"datum": 0.5, "type": "quantitative", "title": null},
"x2": {"datum": 1.0},
"y2": {"datum": 1.0}
}
}
]
},
{
"width": 67,
"height": 465,
"data": {"name": "pairs"},
"mark": {"type": "bar", "color": "#9c70b5", "binSpacing": 0, "clip": true},
"encoding": {
"y": {"field": "csp", "type": "quantitative", "bin": {"extent": [0.479, 0.988], "step": 0.0509, "nice": false}, "scale": {"domain": [0.4535, 1.0229], "nice": false, "zero": false},
"axis": {"title": null, "labels": false, "values": [0.5, 0.6, 0.7, 0.8, 0.9, 1.0], "domainColor": "#666666", "domainWidth": 1.5, "tickColor": "#666666", "tickSize": 5, "tickWidth": 1}},
"x": {"aggregate": "count", "type": "quantitative", "scale": {"domain": [0, 3.66], "nice": false}, "axis": null}
}
}
],
"spacing": 105,
"bounds": "flush"
}
],
"spacing": 23,
"bounds": "flush"
}
]
}
